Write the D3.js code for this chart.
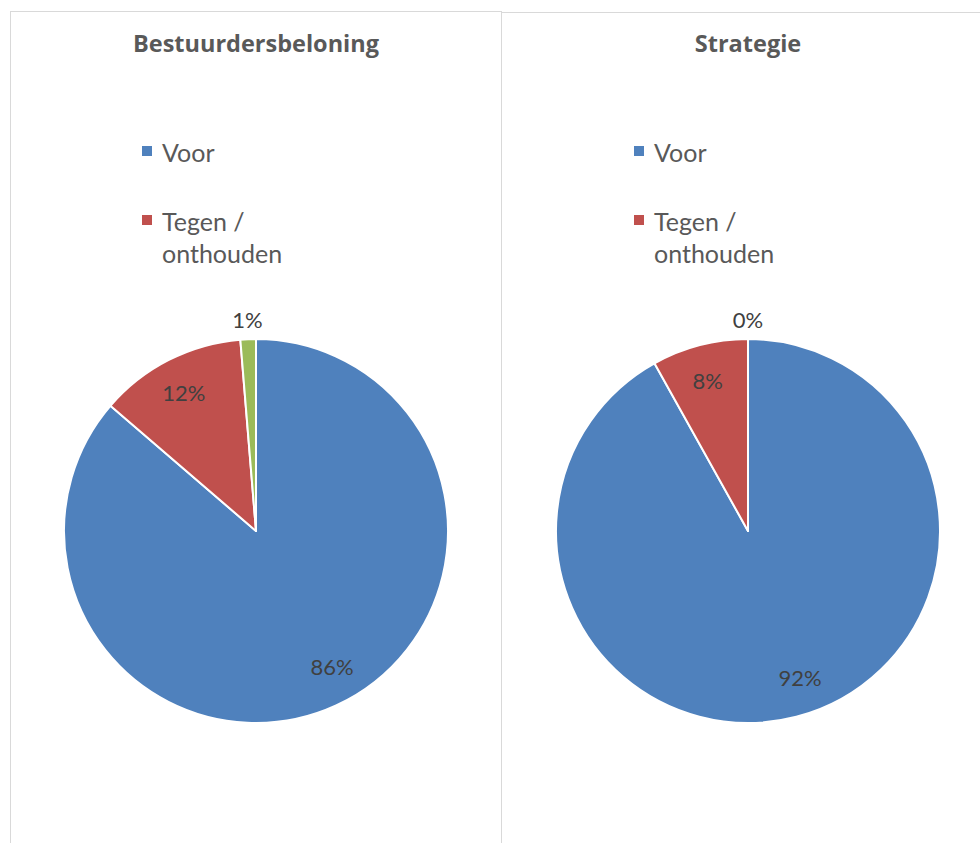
<!DOCTYPE html>
<html>
<head>
<meta charset="utf-8">
<script src="https://cdn.jsdelivr.net/npm/d3@7"></script>
<style>
  body { margin: 0; background: #fff; }
  svg { display: block; }
  text { font-family: Lato, "Open Sans", sans-serif; }
  text.title { font-family: "Open Sans", sans-serif; }
</style>
</head>
<body>
<svg id="chart"></svg>
<script>
// Series order: Voor, Tegen / onthouden, (unnamed third slice)
const categories = ["Voor", "Tegen / onthouden", ""];
const legendLines = [["Voor"], ["Tegen /", "onthouden"]];
const panelTitles = ["Bestuurdersbeloning", "Strategie"];
const bestuurdersbeloning = [0.863, 0.124, 0.013];
const strategie = [0.919, 0.081, 0.0];
const colors = ["#4F81BD", "#C0504D", "#9BBB59"];

const panels = [
    {title: panelTitles[0], values: bestuurdersbeloning, x: 10, w: 491, cx: 256},
    {title: panelTitles[1], values: strategie, x: 501, w: 500, cx: 748}
];

const width = 980, height = 843;
const radius = 192, cy = 531;

const svg = d3.select("#chart")
    .attr("width", width)
    .attr("height", height);

const color = d3.scaleOrdinal().domain(categories).range(colors);
const pct = d3.format(".0%");

const pie = d3.pie().sort(null).value(d => d);
const arc = d3.arc().innerRadius(0).outerRadius(radius);

// label anchor: slightly before the slice middle, like Excel's best fit
function labelPos(d) {
    const small = d.data < 0.03;
    const r = small ? radius + 19 : radius * 0.81;
    const a = small ? (d.startAngle + d.endAngle) / 2
                    : d.startAngle + (d.endAngle - d.startAngle) * 0.485;
    return [Math.sin(a) * r, -Math.cos(a) * r];
}

panels.forEach((p, pi) => {
    const g = svg.append("g");

    // panel frame
    g.append("rect")
        .attr("x", p.x + 0.5)
        .attr("y", 11.5 + pi)
        .attr("width", p.w)
        .attr("height", height + 20)
        .attr("fill", "none")
        .attr("stroke", "#d9d9d9")
        .attr("stroke-width", 1);

    g.append("text")
        .attr("class", "title")
        .attr("x", p.cx)
        .attr("y", 52)
        .attr("text-anchor", "middle")
        .attr("font-size", 23.5)
        .attr("font-weight", "bold")
        .attr("fill", "#595959")
        .text(p.title);

    // legend (only the two named series)
    const lx = p.cx - 114;
    const legend = g.append("g");
    legendLines.forEach((lines, i) => {
        const ly = 162 + i * 69;
        legend.append("rect")
            .attr("x", lx)
            .attr("y", ly - 16)
            .attr("width", 10)
            .attr("height", 10)
            .attr("fill", color(categories[i]));
        legend.append("text")
            .attr("x", lx + 20)
            .attr("y", ly)
            .attr("font-size", 25)
            .attr("fill", "#595959")
            .selectAll("tspan")
            .data(lines)
            .join("tspan")
            .attr("x", lx + 20)
            .attr("dy", (d, j) => j === 0 ? 0 : 32)
            .text(d => d);
    });

    const arcs = pie(p.values).map((d, i) => Object.assign(d, {cat: categories[i]}));
    const chart = g.append("g")
        .attr("transform", `translate(${p.cx},${cy})`);

    chart.selectAll("path")
        .data(arcs)
        .join("path")
        .attr("d", arc)
        .attr("fill", d => color(d.cat))
        .attr("stroke", "#fff")
        .attr("stroke-width", 2)
        .attr("stroke-linejoin", "round");

    chart.selectAll(".label")
        .data(arcs)
        .join("text")
        .attr("class", "label")
        .attr("transform", d => {
            const c = labelPos(d);
            return `translate(${c[0]},${c[1] + 8})`;
        })
        .attr("text-anchor", "middle")
        .attr("font-size", 22)
        .attr("fill", "#404040")
        .text(d => pct(d.data));
});
</script>
</body>
</html>
